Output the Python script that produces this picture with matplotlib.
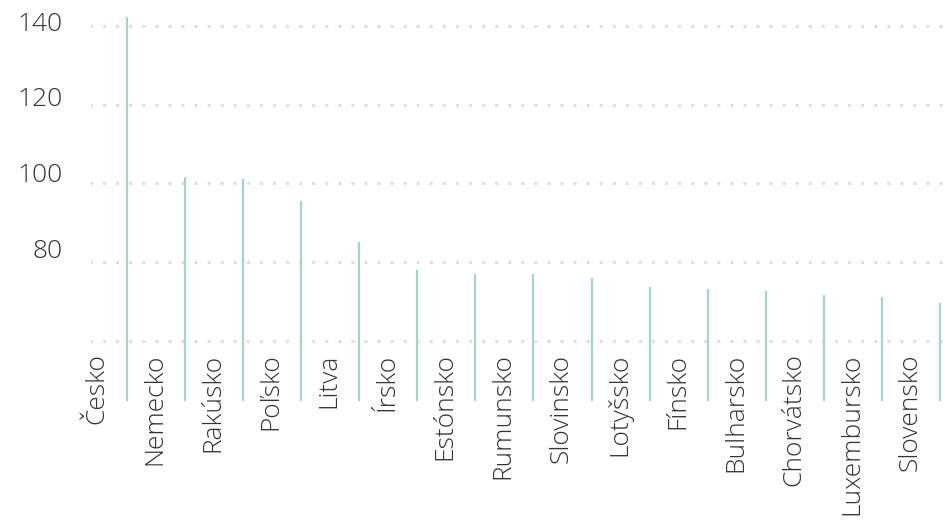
import numpy as np
import matplotlib
matplotlib.use("Agg")
import matplotlib.pyplot as plt
from matplotlib.transforms import blended_transform_factory

countries = ["Česko", "Nemecko", "Rakúsko", "Poľsko", "Litva", "Írsko", "Estónsko",
             "Rumunsko", "Slovinsko", "Lotyšsko", "Fínsko", "Bulharsko", "Chorvátsko",
             "Luxembursko", "Slovensko"]
values = [142.3, 101.7, 101.1, 95.5, 85.1, 77.9, 76.9, 76.9, 75.9, 73.7, 73.1, 72.6,
          71.5, 71.0, 69.5]
grid_vals = [60, 80, 100, 120, 140]
tick_labels = ["", "80", "100", "120", "140"]

plt.rcParams['lines.scale_dashes'] = False
plt.rcParams['font.family'] = ['Open Sans', 'DejaVu Sans']

fig = plt.figure(figsize=(9.52, 5.2), dpi=100)
ax = fig.add_axes([0.0953, 1 - 400.7 / 520, 1 - 0.0953, 400.7 / 520])
ax.set_xlim(-0.625, 14.207)
ax.set_ylim(44.7, 146.62)

for g in grid_vals:
    ax.axhline(g, color='#dedede', lw=2.5, dashes=(0.01, 9.4),
               dash_capstyle='round', zorder=1)

x = np.arange(len(countries))
ax.vlines(x, 44.7, values, color='#a6d5c1', lw=1.6, zorder=2)

for s in ax.spines.values():
    s.set_visible(False)
ax.set_xticks([])
ax.set_yticks([])

txt_color = '#333333'
ty = blended_transform_factory(fig.transFigure, ax.transData)
# labels sit a little above their grid line
nudge = [0, 2.6, 2.0, 1.3, 0.3]
for g, lab, dy in zip(grid_vals, tick_labels, nudge):
    if lab:
        fig.text(0.066, g + dy, lab, transform=ty, ha='right', va='center',
                 fontsize=19, color=txt_color, fontweight='light')

for i, name in enumerate(countries):
    ax.text(i - 0.52, 56.7, name, rotation=90, ha='center', va='top',
            fontsize=19, color=txt_color, fontweight='light', clip_on=False)

fig.savefig("out.png", dpi=100)
